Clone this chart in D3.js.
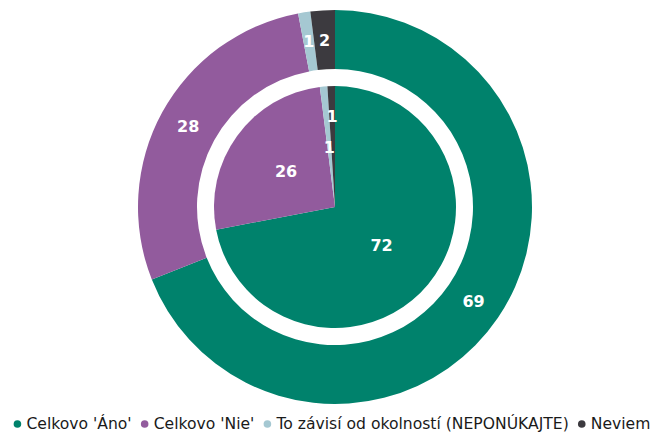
<!DOCTYPE html>
<html>
<head>
<meta charset="utf-8">
<script src="https://cdn.jsdelivr.net/npm/d3@7"></script>
<style>
  html, body { margin: 0; padding: 0; background: #fff; }
  svg { display: block; }
</style>
</head>
<body>
<svg id="chart" width="659" height="432"></svg>
<script>
const categories = ["Celkovo 'Áno'", "Celkovo 'Nie'", "To závisí od okolností (NEPONÚKAJTE)", "Neviem"];
const outerValues = [69, 28, 1, 2];
const innerValues = [72, 26, 1, 1];
const colors = ["#00826c", "#925b9d", "#a5c8d2", "#3c3a3f"];

const W = 659, H = 432;
const cx = 335, cy = 207;
const outerR = 197, outerInner = 138, innerR = 121;

const svg = d3.select("#chart");
const g = svg.append("g").attr("transform", `translate(${cx},${cy})`);

const pie = d3.pie().sort(null).value(d => d.v);
const color = d3.scaleOrdinal().domain(categories).range(colors);

function mk(vals) { return categories.map((c, i) => ({ c, v: vals[i], i })); }

const outerArcs = pie(mk(outerValues));
const innerArcs = pie(mk(innerValues));

const arcOuter = d3.arc().innerRadius(outerInner).outerRadius(outerR);
const arcInner = d3.arc().innerRadius(0).outerRadius(innerR);

g.selectAll("path.outer").data(outerArcs).join("path")
  .attr("class", "outer")
  .attr("d", arcOuter)
  .attr("fill", d => color(d.data.c));

g.selectAll("path.inner").data(innerArcs).join("path")
  .attr("class", "inner")
  .attr("d", arcInner)
  .attr("fill", d => color(d.data.c));

const labelFont = "'DejaVu Sans', sans-serif";

g.selectAll("text.ol").data(outerArcs).join("text")
  .attr("class", "ol")
  .attr("transform", d => `translate(${arcOuter.centroid(d)})`)
  .attr("text-anchor", "middle")
  .attr("dy", "0.36em")
  .attr("fill", "#fff")
  .attr("font-family", labelFont)
  .attr("font-weight", "bold")
  .attr("font-size", 16)
  .text(d => d.data.v);

// the last small inner slice's label is pushed outward to avoid overlap
const arcInnerLabelOut = d3.arc().innerRadius(innerR * 0.5).outerRadius(innerR);
g.selectAll("text.il").data(innerArcs).join("text")
  .attr("class", "il")
  .attr("transform", d => `translate(${(d.index === 3 ? arcInnerLabelOut : arcInner).centroid(d)})`)
  .attr("text-anchor", "middle")
  .attr("dy", "0.36em")
  .attr("fill", "#fff")
  .attr("font-family", labelFont)
  .attr("font-weight", "bold")
  .attr("font-size", 16)
  .text(d => d.data.v);

// legend
const legend = svg.append("g");
const legFont = "'DejaVu Sans', sans-serif";
const items = legend.selectAll("g.item").data(categories).join("g").attr("class", "item");
items.append("circle").attr("r", 3.8).attr("cy", -5).attr("fill", d => color(d));
items.append("text")
  .attr("x", 9)
  .attr("font-family", legFont)
  .attr("font-size", 15.6)
  .attr("fill", "#1a1a1a")
  .text(d => d);

let x = 0;
const pos = [];
items.each(function () {
  const w = d3.select(this).select("text").node().getComputedTextLength();
  pos.push(x);
  x += 9 + w + 13;
});
const total = x - 13 + 3.8;
const startX = 332 - total / 2 + 3.8;
items.attr("transform", (d, i) => `translate(${startX + pos[i]},429)`);
</script>
</body>
</html>
